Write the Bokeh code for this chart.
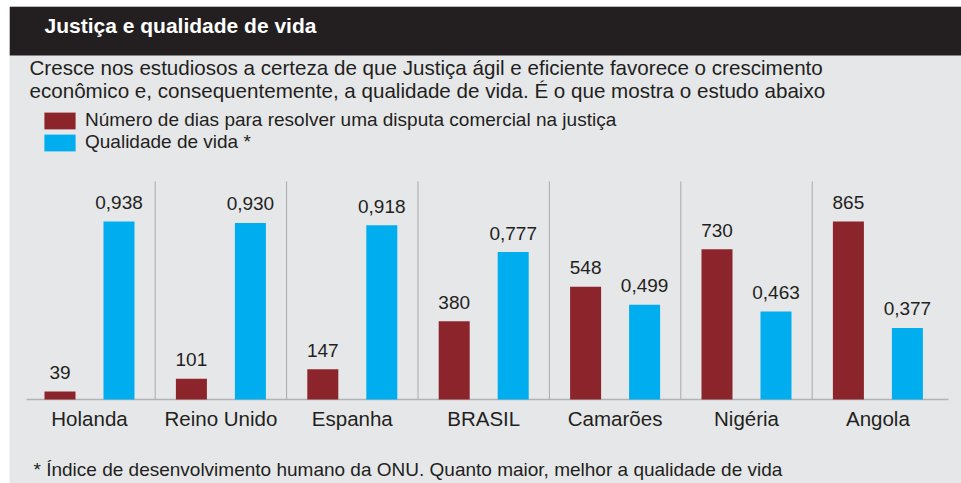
from bokeh.plotting import figure
from bokeh.models import Range1d, Label, BoxAnnotation, ColumnDataSource, Legend, LegendItem
from bokeh.core.properties import value
from bokeh.embed import file_html
from bokeh.resources import INLINE

# ---- data ----
countries = ["Holanda", "Reino Unido", "Espanha", "BRASIL", "Camarões", "Nigéria", "Angola"]
days = [39, 101, 147, 380, 548, 730, 865]
quality = [0.938, 0.930, 0.918, 0.777, 0.499, 0.463, 0.377]
series_names = ["Número de dias para resolver uma disputa comercial na justiça", "Qualidade de vida *"]
title = "Justiça e qualidade de vida"
subtitle = ["Cresce nos estudiosos a certeza de que Justiça ágil e eficiente favorece o crescimento",
            "econômico e, consequentemente, a qualidade de vida. É o que mostra o estudo abaixo"]
footnote = "* Índice de desenvolvimento humano da ONU. Quanto maior, melhor a qualidade de vida"

RED = "#8c252b"
BLUE = "#00adee"
BG = "#e6e7e9"
DARK = "#231f20"
FONT = "Liberation Sans"

W, H = 961, 483
LEFT, TOP = 9, 6
FW, FH = W - LEFT, H - TOP
BASE_FROM_BOTTOM = 84
PX_PER_GROUP = 131.4
GROUP0_PX = 89
PX_PER_DAY = 0.2058
PX_PER_Q = 189.8
SHIFT = 8  # svg alphabetic baseline correction (px)

x_start = -(GROUP0_PX - LEFT) / PX_PER_GROUP
x_end = x_start + FW / PX_PER_GROUP
y_start = -BASE_FROM_BOTTOM / PX_PER_DAY
y_end = (FH - BASE_FROM_BOTTOM) / PX_PER_DAY
q_start = -BASE_FROM_BOTTOM / PX_PER_Q
q_end = (FH - BASE_FROM_BOTTOM) / PX_PER_Q


def X(px):
    return x_start + (px - LEFT) / PX_PER_GROUP


def Y(py):
    return y_end - (py - TOP) / PX_PER_DAY


def YT(py):
    return Y(py - SHIFT)


p = figure(width=W, height=H, output_backend="svg", toolbar_location=None,
           x_range=Range1d(x_start, x_end), y_range=Range1d(y_start, y_end),
           min_border_left=LEFT, min_border_top=TOP, min_border_right=0, min_border_bottom=0)
p.extra_y_ranges = {"q": Range1d(q_start, q_end)}
p.axis.visible = False
p.grid.visible = False
p.outline_line_color = None
p.background_fill_color = BG
p.border_fill_color = "white"

# header bar
p.add_layout(BoxAnnotation(bottom=Y(55), fill_color=DARK, fill_alpha=1, line_color=None, level="underlay"))

idx = list(range(len(countries)))
off = 0.2245
bw = 0.236
src = ColumnDataSource(dict(
    xr=[i - off for i in idx], xb=[i + off for i in idx],
    days=days, quality=quality, country=countries, xc=idx,
    dlab=[str(d) for d in days],
    qlab=[f"{q:.3f}".replace(".", ",") for q in quality],
))

# separators
sep_x = [i + 0.5 for i in idx[:-1]]
p.segment(x0=sep_x, x1=sep_x, y0=[0] * len(sep_x), y1=[Y(181)] * len(sep_x),
          line_color="#a7a9ac", line_width=1)
# baseline
p.segment(x0=[X(26)], x1=[X(948)], y0=[0], y1=[0], line_color="#b1b3b6", line_width=1.6)

r_red = p.vbar(x="xr", top="days", bottom=0, width=bw, source=src, fill_color=RED, line_color=None)
r_blue = p.vbar(x="xb", top="quality", bottom=0, width=bw, source=src, fill_color=BLUE, line_color=None,
                y_range_name="q")

p.text(x="xr", y="days", text="dlab", source=src, text_align="center", text_baseline="alphabetic",
       y_offset=-11 - SHIFT, text_font=value(FONT), text_font_size="19px", text_color=DARK)
p.text(x="xb", y="quality", text="qlab", source=src, text_align="center", text_baseline="alphabetic",
       y_offset=-11 - SHIFT, text_font=value(FONT), text_font_size="19px", text_color=DARK, y_range_name="q")
p.text(x="xc", y=YT(426), text="country", source=src, text_align="center", text_baseline="alphabetic",
       text_font=value(FONT), text_font_size="20.5px", text_color=DARK)

# texts
p.add_layout(Label(x=X(44), y=YT(32.5), text=title, text_font=FONT, text_font_size="21px",
                   text_font_style="bold", text_color="white", text_baseline="alphabetic"))
for k, line in enumerate(subtitle):
    p.add_layout(Label(x=X(29), y=YT(75 + 23 * k), text=line, text_font=FONT, text_font_size="20.6px",
                       text_color=DARK, text_baseline="alphabetic"))
p.add_layout(Label(x=X(33), y=YT(476.5), text=footnote, text_font=FONT, text_font_size="19px",
                   text_color=DARK, text_baseline="alphabetic"))

legend = Legend(items=[LegendItem(label=series_names[0], renderers=[r_red]),
                       LegendItem(label=series_names[1], renderers=[r_blue])],
                location=(31, 330), orientation="vertical",
                glyph_width=39, glyph_height=21, label_height=21, spacing=0, padding=0, margin=0,
                label_standoff=6, background_fill_alpha=0, border_line_color=None,
                label_text_font=FONT, label_text_font_size="19px", label_text_color=DARK)
p.add_layout(legend)

open("out.html", "w").write(file_html(p, INLINE))
